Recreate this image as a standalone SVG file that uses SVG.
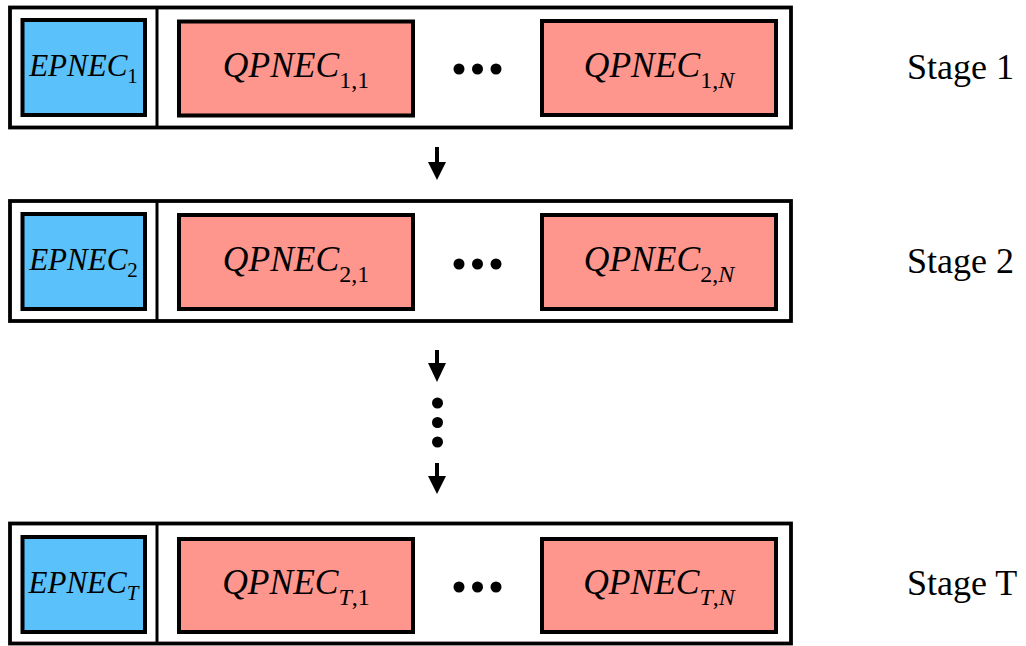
<svg xmlns="http://www.w3.org/2000/svg" width="1026" height="646" viewBox="0 0 1026 646">
<style>
.outer{fill:#fff;stroke:#000;stroke-width:3.8}
.div{stroke:#000;stroke-width:3}
.ep{fill:#5AC1FB;stroke:#000;stroke-width:4}
.qp{fill:#FE968D;stroke:#000;stroke-width:4}
.lbl{font-family:"Liberation Serif",serif;font-style:italic;fill:#000}
.stg{font-family:"Liberation Serif",serif;font-size:36px;fill:#000}
.dot{fill:#000}
</style>
<rect x="0" y="0" width="1026" height="646" fill="#fff"/>
<g id="stage1">
<rect class="outer" x="10" y="7.5" width="781" height="120"/>
<line class="div" x1="157" y1="7.5" x2="157" y2="127.5"/>
<g id="ep1"><rect class="ep" x="22.5" y="20" width="122.5" height="95"/>
<text class="lbl" x="83.5" y="76" text-anchor="middle" font-size="31">EPNEC<tspan font-size="21" dy="7" font-style="normal">1</tspan></text></g>
<g id="qp11"><rect class="qp" x="179" y="21.5" width="234" height="94"/>
<text class="lbl" x="296" y="77" text-anchor="middle" font-size="35.5">QPNEC<tspan font-size="24" dy="11" font-style="normal">1,1</tspan></text></g>
<g id="dots1"><circle class="dot" cx="459" cy="69" r="5.5"/><circle class="dot" cx="477.5" cy="69" r="5.5"/><circle class="dot" cx="496" cy="69" r="5.5"/></g>
<g id="qp1n"><rect class="qp" x="542" y="21" width="234" height="94"/>
<text class="lbl" x="659" y="77" text-anchor="middle" font-size="35.5">QPNEC<tspan font-size="24" dy="11" font-style="normal">1,</tspan><tspan font-size="24" font-style="italic">N</tspan></text></g>
<text class="stg" x="907" y="79">Stage 1</text>
</g>
<g id="stage2">
<rect class="outer" x="10" y="201" width="781" height="120"/>
<line class="div" x1="157" y1="201" x2="157" y2="321"/>
<g id="ep2"><rect class="ep" x="22.5" y="214" width="122.5" height="95"/>
<text class="lbl" x="83.5" y="270" text-anchor="middle" font-size="31">EPNEC<tspan font-size="21" dy="7" font-style="normal">2</tspan></text></g>
<g id="qp21"><rect class="qp" x="179" y="215" width="234" height="94"/>
<text class="lbl" x="296" y="271" text-anchor="middle" font-size="35.5">QPNEC<tspan font-size="24" dy="11" font-style="normal">2,1</tspan></text></g>
<g id="dots2"><circle class="dot" cx="459" cy="264" r="5.5"/><circle class="dot" cx="477.5" cy="264" r="5.5"/><circle class="dot" cx="496" cy="264" r="5.5"/></g>
<g id="qp2n"><rect class="qp" x="542" y="215" width="234" height="94"/>
<text class="lbl" x="659" y="271" text-anchor="middle" font-size="35.5">QPNEC<tspan font-size="24" dy="11" font-style="normal">2,</tspan><tspan font-size="24" font-style="italic">N</tspan></text></g>
<text class="stg" x="907" y="273">Stage 2</text>
</g>
<g id="stageT">
<rect class="outer" x="10" y="523.5" width="781" height="120"/>
<line class="div" x1="157" y1="523.5" x2="157" y2="643.5"/>
<g id="epT"><rect class="ep" x="22.5" y="537" width="122.5" height="95"/>
<text class="lbl" x="83.5" y="593" text-anchor="middle" font-size="31">EPNEC<tspan font-size="21" dy="7">T</tspan></text></g>
<g id="qpT1"><rect class="qp" x="179" y="539" width="234" height="93"/>
<text class="lbl" x="296" y="594" text-anchor="middle" font-size="35.5">QPNEC<tspan font-size="24" dy="11">T</tspan><tspan font-size="24" font-style="normal">,1</tspan></text></g>
<g id="dotsT"><circle class="dot" cx="459" cy="587" r="5.5"/><circle class="dot" cx="477.5" cy="587" r="5.5"/><circle class="dot" cx="496" cy="587" r="5.5"/></g>
<g id="qpTn"><rect class="qp" x="542" y="539" width="234" height="93"/>
<text class="lbl" x="659" y="594" text-anchor="middle" font-size="35.5">QPNEC<tspan font-size="24" dy="11">T</tspan><tspan font-size="24" font-style="normal">,</tspan><tspan font-size="24">N</tspan></text></g>
<text class="stg" x="907" y="595">Stage T</text>
</g>
<g id="connectors">
<line x1="437" y1="147" x2="437" y2="164" stroke="#000" stroke-width="4"/>
<polygon points="428,162 446,162 437,180" fill="#000"/>
<line x1="437" y1="350" x2="437" y2="365" stroke="#000" stroke-width="4"/>
<polygon points="428,363 446,363 437,382" fill="#000"/>
<circle class="dot" cx="437.5" cy="403" r="5.5"/>
<circle class="dot" cx="437.5" cy="422.5" r="5.5"/>
<circle class="dot" cx="437.5" cy="442" r="5.5"/>
<line x1="437" y1="463" x2="437" y2="478" stroke="#000" stroke-width="4"/>
<polygon points="428,476 446,476 437,494" fill="#000"/>
</g>
</svg>
